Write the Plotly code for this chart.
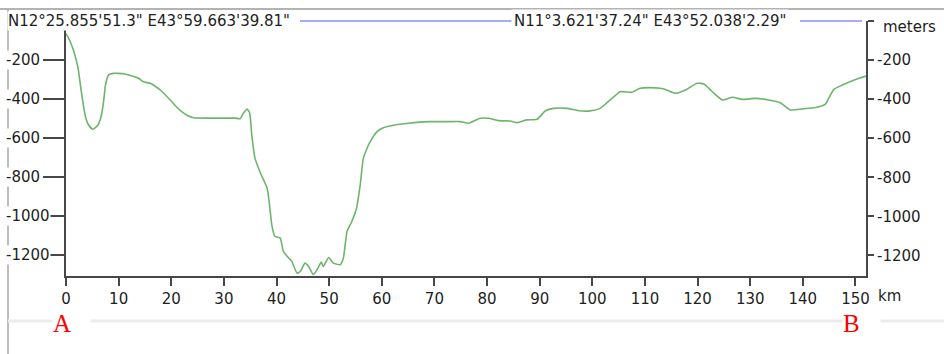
import plotly.graph_objects as go

# Depth profile along the A -> B track
distance_km = [
    0.0, 0.7, 1.4, 2.3, 2.8, 3.3, 3.8, 4.3, 5.1, 6.0, 6.5, 6.8, 7.2, 7.5, 8.1,
    9.0, 9.9, 11.0, 11.9, 13.0, 13.8, 14.7, 16.0, 17.0, 17.9, 19.8, 21.0, 22.0,
    23.0, 24.2, 27.4, 30.0, 32.1, 33.1, 33.7, 34.4, 34.9, 35.3, 35.9, 36.9,
    38.2, 38.6, 39.1, 39.7, 40.7, 41.3, 42.3, 42.9, 43.9, 44.5, 45.4, 46.1,
    47.0, 47.7, 48.5, 48.9, 49.9, 50.8, 52.1, 52.7, 53.4, 54.3, 55.2, 55.9,
    56.5, 57.2, 57.8, 59.1, 60.3, 62.5, 65.1, 68.9, 72.7, 74.9, 76.5, 78.7,
    80.3, 82.2, 84.4, 85.7, 87.6, 89.5, 91.1, 92.6, 95.2, 97.4, 99.6, 101.5,
    103.4, 105.3, 107.5, 109.1, 111.0, 112.9, 113.9, 115.8, 117.7, 119.9,
    121.2, 122.8, 124.7, 126.6, 128.5, 131.0, 133.5, 135.7, 137.6, 139.9,
    142.4, 144.3, 144.9, 145.9, 147.5, 150.0, 152.0,
]
depth_m = [
    -65, -100, -149, -242, -340, -430, -500, -532, -554, -535, -505, -472, -400,
    -328, -276, -268, -268, -270, -276, -285, -293, -311, -319, -335, -353,
    -404, -440, -464, -482, -495, -497, -497, -497, -500, -472, -450, -472,
    -583, -702, -775, -855, -924, -1043, -1103, -1111, -1179, -1213, -1230,
    -1290, -1282, -1239, -1256, -1298, -1273, -1234, -1256, -1210, -1239,
    -1247, -1213, -1077, -1026, -958, -839, -702, -651, -617, -566, -546,
    -532, -523, -515, -515, -515, -523, -498, -498, -510, -512, -520, -506,
    -503, -459, -447, -447, -459, -460, -447, -404, -362, -365, -344, -341,
    -344, -350, -370, -353, -319, -322, -362, -404, -390, -401, -396, -404,
    -418, -455, -450, -443, -425, -396, -350, -328, -299, -282,
]

x_ticks = list(range(0, 151, 10))
y_ticks = [-200, -400, -600, -800, -1000, -1200]
start_label = "N12°25.855'51.3\" E43°59.663'39.81\""
end_label = "N11°3.621'37.24\" E43°52.038'2.29\""

FONT = "DejaVu Sans"
FS = 15
AXIS_COLOR = "#474747"
TEXT_COLOR = "#1e1e1e"

# plot-area geometry in pixels (used to place the frame decorations)
W, H = 944, 354
L, R, T, B = 66, 78, 21, 78
PW, PH = W - L - R, H - T - B


def px_x(p):
    return (p - L) / PW


def px_y(p):
    return (H - B - p) / PH


fig = go.Figure()
fig.add_trace(go.Scatter(
    x=distance_km, y=depth_m, mode="lines",
    line=dict(color="#6db56d", width=1.6, shape="spline", smoothing=0.5),
    hoverinfo="skip", showlegend=False,
))
# invisible twin trace for the right-hand depth axis
fig.add_trace(go.Scatter(
    x=[distance_km[0]], y=[depth_m[0]], yaxis="y2", mode="lines",
    line=dict(width=0), hoverinfo="skip", showlegend=False,
))

y_range = [-1305, 0]
fig.update_layout(
    width=W, height=H,
    margin=dict(l=L, r=R, t=T, b=B),
    paper_bgcolor="white", plot_bgcolor="white",
    font=dict(family=FONT, size=FS, color=TEXT_COLOR),
    xaxis=dict(
        range=[0, 152], tickvals=x_ticks, ticks="outside", ticklen=8,
        tickwidth=2, tickcolor=AXIS_COLOR, showline=True, linewidth=2,
        linecolor=AXIS_COLOR, showgrid=False, zeroline=False,
        tickfont=dict(family=FONT, size=FS, color=TEXT_COLOR),
    ),
    yaxis=dict(
        range=y_range, tickvals=y_ticks, ticks="outside", ticklen=21,
        tickwidth=2, tickcolor=AXIS_COLOR, showline=True, linewidth=2,
        linecolor=AXIS_COLOR, showgrid=False, zeroline=False,
        showticklabels=False,
    ),
    yaxis2=dict(
        range=y_range, overlaying="y", side="right",
        tickvals=[0] + y_ticks, ticktext=[""] + [str(v) for v in y_ticks],
        ticks="outside", ticklen=6, tickwidth=2, tickcolor=AXIS_COLOR,
        showline=True, linewidth=2, linecolor=AXIS_COLOR, showgrid=False,
        zeroline=False, tickfont=dict(family=FONT, size=FS, color=TEXT_COLOR),
    ),
)

# left depth labels, left-aligned over the long tick marks
for v in y_ticks:
    fig.add_annotation(
        x=px_x(5), xref="paper", y=v, yref="y", text=str(v),
        xanchor="left", yanchor="middle", showarrow=False,
        bgcolor="white", borderpad=0,
        font=dict(family=FONT, size=FS, color=TEXT_COLOR),
    )

shapes = [
    # outer frame
    dict(type="line", xref="paper", yref="paper", x0=px_x(0), x1=px_x(W),
         y0=px_y(9), y1=px_y(9), line=dict(color="#9a9a9a", width=1.5)),
    dict(type="line", xref="paper", yref="paper", x0=px_x(8), x1=px_x(8),
         y0=px_y(9), y1=px_y(H), line=dict(color="#a8a8a8", width=1.5)),
    # light separator under the distance axis
    dict(type="line", xref="paper", yref="paper", x0=px_x(8), x1=px_x(W),
         y0=px_y(321), y1=px_y(321), line=dict(color="#ececec", width=3)),
    # track line between the endpoint coordinates
    dict(type="line", xref="paper", yref="paper", x0=px_x(300), x1=px_x(515),
         y0=px_y(21), y1=px_y(21), line=dict(color="#8c8cff", width=1.5)),
    dict(type="line", xref="paper", yref="paper", x0=px_x(800), x1=px_x(862),
         y0=px_y(21), y1=px_y(21), line=dict(color="#8c8cff", width=1.5)),
]
fig.update_layout(shapes=shapes)

fig.add_annotation(
    x=px_x(7), xref="paper", y=px_y(20.5), yref="paper", text=start_label,
    xanchor="left", yanchor="middle", showarrow=False, bgcolor="white",
    borderpad=0, font=dict(family=FONT, size=FS, color=TEXT_COLOR),
)
fig.add_annotation(
    x=px_x(511), xref="paper", y=px_y(20.5), yref="paper", text=end_label,
    xanchor="left", yanchor="middle", showarrow=False, bgcolor="white",
    borderpad=2, font=dict(family=FONT, size=FS, color=TEXT_COLOR),
)
fig.add_annotation(
    x=px_x(881), xref="paper", y=px_y(27), yref="paper", text="meters",
    xanchor="left", yanchor="middle", showarrow=False,
    font=dict(family=FONT, size=FS, color=TEXT_COLOR),
)
fig.add_annotation(
    x=px_x(876), xref="paper", y=px_y(296), yref="paper", text="km",
    xanchor="left", yanchor="middle", showarrow=False,
    font=dict(family=FONT, size=FS, color=TEXT_COLOR),
)

# endpoint markers A and B
for label, left_px in (("A", 52), ("B", 842)):
    fig.add_annotation(
        x=px_x(left_px), xref="paper", y=px_y(323), yref="paper", text=label,
        xanchor="left", yanchor="middle", showarrow=False, bgcolor="white",
        width=37, height=24, align="left", valign="middle", borderpad=0,
        font=dict(family="Liberation Serif", size=25, color="#ff0000"),
    )

fig.write_html("out.html")
